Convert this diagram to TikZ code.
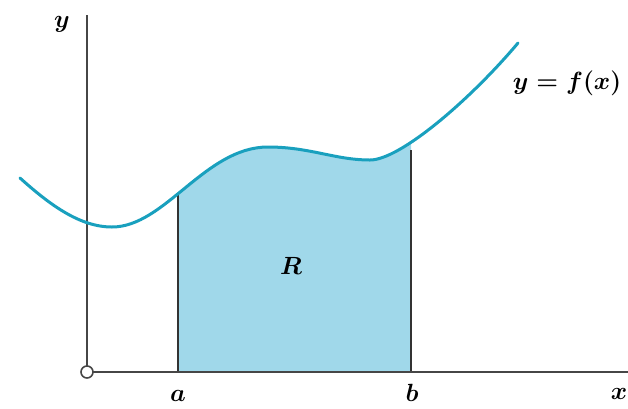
\documentclass[tikz,border=0pt]{standalone}
\usepackage{amsmath}
\definecolor{curvecol}{RGB}{25,160,190}
\definecolor{fillcol}{RGB}{160,216,234}
\definecolor{axiscol}{RGB}{70,70,70}
\tikzset{
  axis/.style={draw=axiscol, line width=1.6pt},
  edgeline/.style={draw=black!80, line width=1.3pt},
  curve/.style={draw=curvecol, line width=3pt, line cap=round},
  lbl/.style={font=\fontsize{25}{30}\selectfont\boldmath, inner sep=0pt}
}
\begin{document}
\begin{tikzpicture}[x=1pt,y=-1pt]
\useasboundingbox (0,0) rectangle (628,408);
\def\curvepath{(20,178) .. controls (50,205) and (80,227) .. (112,227)
  .. controls (165,227) and (205,147) .. (268,147)
  .. controls (310,147) and (335,160) .. (370,160)
  .. controls (400,160) and (470,100) .. (518,43)}
% shaded region R
\begin{scope}
  \clip (178,0) rectangle (411,372);
  \fill[fillcol] \curvepath -- (518,372) -- (20,372) -- cycle;
\end{scope}
% named points
\coordinate (O) at (87,372);
\coordinate (ytop) at (87,15);
\coordinate (xend) at (628,372);
\coordinate (atop) at (178,195);
\coordinate (abot) at (178,372);
\coordinate (btop) at (411,150);
\coordinate (bbot) at (411,372);
% sides
\draw[edgeline] (abot) -- (atop);
\draw[edgeline] (bbot) -- (btop);
% axes
\draw[axis] (O) -- (ytop);
\draw[axis] (O) -- (xend);
\node[circle, draw=axiscol, fill=white, line width=1.6pt, minimum size=12pt, inner sep=0pt] (orig) at (O) {};
% curve
\draw[curve] \curvepath;
% labels
\node[lbl] (ylab) at (62,24) {$y$};
\node[lbl] (xlab) at (619,394) {$x$};
\node[lbl] (alab) at (178,396) {$a$};
\node[lbl] (blab) at (412,393) {$b$};
\node[lbl] (Rlab) at (291,266) {$R$};
\node[lbl] (flab) at (567,83) {$y=f(x)$};
\end{tikzpicture}
\end{document}
